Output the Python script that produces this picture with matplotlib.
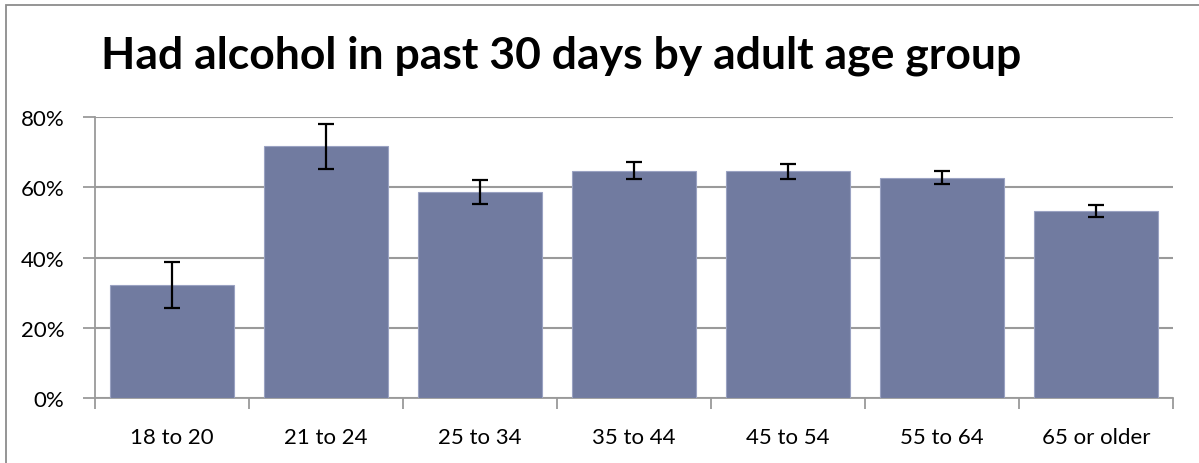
import matplotlib
matplotlib.use("Agg")
import matplotlib.pyplot as plt
from matplotlib.patches import Rectangle
from matplotlib.ticker import FuncFormatter

# Share of adults who had alcohol in the past 30 days, by age group
age_groups = ["18 to 20", "21 to 24", "25 to 34", "35 to 44", "45 to 54", "55 to 64", "65 or older"]
pct_drank = [32.3, 71.7, 58.7, 64.8, 64.6, 62.8, 53.2]
err_low = [6.6, 6.3, 3.4, 2.5, 2.1, 1.7, 1.5]
err_high = [6.5, 6.4, 3.5, 2.5, 2.1, 1.9, 1.7]
y_ticks = [0, 20, 40, 60, 80]
title = "Had alcohol in past 30 days by adult age group"

W, H = 1199, 464
fig = plt.figure(figsize=(W / 100, H / 100), dpi=100)
plt.rcParams["font.family"] = ["Lato", "DejaVu Sans"]

# chart-area frame (only left and top edges fall inside the canvas)
fig.patches.append(Rectangle((5.5 / W, -0.1), 1.2, (H - 5.5) / H + 0.1,
                             transform=fig.transFigure, fill=False,
                             edgecolor="#8c8c8c", linewidth=1.3))

ax = fig.add_axes([95 / W, 1 - 399 / H, (1173 - 95) / W, (399 - 118.3) / H])
x = list(range(len(age_groups)))
ax.bar(x, pct_drank, width=0.81, color="#717ba0", edgecolor="#9aa2c2",
       linewidth=0.8, zorder=3)
ax.errorbar(x, pct_drank, yerr=[err_low, err_high], fmt="none", ecolor="black",
            elinewidth=1.6, capsize=6, capthick=1.6, zorder=4)

ax.set_xlim(-0.5, len(age_groups) - 0.5)
ax.set_ylim(0, 80)
ax.set_yticks(y_ticks)
ax.yaxis.set_major_formatter(FuncFormatter(lambda v, _: f"{v:.0f}%"))
ax.grid(axis="y", color="#9a9a9a", linewidth=1.5, zorder=0)

# category labels centered, ticks between categories
ax.set_xticks(x)
ax.set_xticklabels(age_groups)
ax.tick_params(axis="x", length=0, pad=21, labelsize=16)
ax.set_xticks([i - 0.5 for i in range(len(age_groups) + 1)], minor=True)
ax.tick_params(axis="x", which="minor", length=8, width=1.3, color="#9a9a9a")
ax.tick_params(axis="y", length=9, width=1.3, color="#9a9a9a", pad=13, labelsize=16)

for side in ["top", "right"]:
    ax.spines[side].set_visible(False)
for side in ["left", "bottom"]:
    ax.spines[side].set_color("#9a9a9a")
    ax.spines[side].set_linewidth(1.3)

fig.text(101 / W, 1 - 56 / H, title, fontsize=32, fontweight="bold",
         ha="left", va="center", color="black")

fig.savefig("out.png", dpi=100)
